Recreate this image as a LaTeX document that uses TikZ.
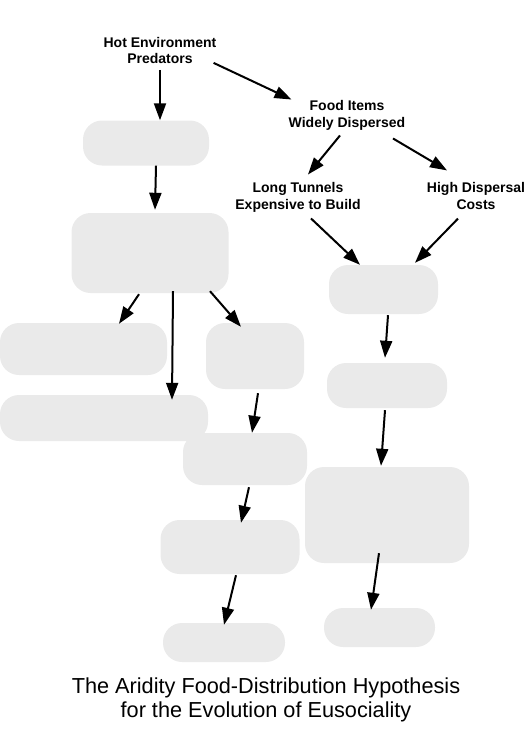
\documentclass[tikz,border=0pt]{standalone}
\usepackage{fontspec}
\setmainfont{Liberation Sans}
\usepackage{tikz}
\usetikzlibrary{arrows.meta}

\definecolor{blobgray}{RGB}{234,234,234}

\begin{document}
\begin{tikzpicture}[
  x=1pt, y=-1pt,
  lbl/.style={font=\bfseries\fontsize{14}{16.5}\selectfont, align=center, inner sep=0pt},
  blob/.style={fill=blobgray, draw=none, rounded corners=19pt, inner sep=0pt},
  arr/.style={draw, line width=2pt, -{Triangle[length=17pt,width=12pt]}}
]
\useasboundingbox (0,0) rectangle (531,734);

% Labels
\node[lbl] (hot) at (160,50.3) {Hot Environment\\Predators};
\node[lbl] (food) at (347,115.5) {Food Items\\Widely Dispersed};
\node[lbl] (tunnels) at (298,197.5) {Long Tunnels\\Expensive to Build};
\node[lbl] (costs) at (476,196) {High Dispersal\\Costs};

% Left column
\node[blob, minimum width=126pt, minimum height=45pt] (b1) at (146,143) {};
\node[blob, minimum width=157pt, minimum height=80pt] (b2) at (150,253) {};
\node[blob, minimum width=167pt, minimum height=52pt] (b3) at (83.5,349) {};
\node[blob, minimum width=98pt, minimum height=66pt] (b4) at (255,356) {};
\node[blob, minimum width=208pt, minimum height=46pt] (b5) at (104,418) {};
\node[blob, minimum width=124pt, minimum height=52pt] (b6) at (245,459) {};
\node[blob, minimum width=139pt, minimum height=54pt] (b7) at (230,547) {};
\node[blob, minimum width=122pt, minimum height=39pt] (b8) at (224,642.5) {};

% Right column
\node[blob, minimum width=109pt, minimum height=49pt] (r1) at (383.5,289.5) {};
\node[blob, minimum width=120pt, minimum height=45pt] (r2) at (387,385.5) {};
\node[blob, minimum width=164pt, minimum height=96pt] (r3) at (387,515) {};
\node[blob, minimum width=111pt, minimum height=39pt] (r4) at (379.5,627.5) {};

% Arrows
\draw[arr] ([shift={(0,6)}]hot.south) -- ([shift={(14,0)}]b1.north);
\draw[arr] ([shift={(-3,-1)}]hot.south east) -- ([shift={(3,-1)}]food.north west);
\draw[arr] ([shift={(10,0)}]b1.south) -- ([shift={(5,-3)}]b2.north);
\draw[arr] ([shift={(-11,1)}]b2.south) -- ([shift={(35.5,1)}]b3.north);
\draw[arr] ([shift={(23,-2)}]b2.south) -- ([shift={(68,5)}]b5.north);
\draw[arr] ([shift={(60,-2)}]b2.south) -- ([shift={(-14,4)}]b4.north);
\draw[arr] ([shift={(3,4)}]b4.south) -- ([shift={(7,0)}]b6.north);
\draw[arr] ([shift={(4,2)}]b6.south) -- ([shift={(11,3)}]b7.north);
\draw[arr] ([shift={(6,1)}]b7.south) -- ([shift={(0,2)}]b8.north);

\draw[arr] ([shift={(-7,5)}]food.south) -- ([shift={(10,-8)}]tunnels.north);
\draw[arr] ([shift={(46,8)}]food.south) -- ([shift={(-29,-12)}]costs.north);
\draw[arr] ([shift={(13,6)}]tunnels.south) -- ([shift={(-23.5,0)}]r1.north);
\draw[arr] ([shift={(-18,9)}]costs.south) -- ([shift={(31.5,-2)}]r1.north);
\draw[arr] ([shift={(4.5,1)}]r1.south) -- ([shift={(-2,-5)}]r2.north);
\draw[arr] ([shift={(-2,2)}]r2.south) -- ([shift={(-6,-1)}]r3.north);
\draw[arr] ([shift={(-8,-10)}]r3.south) -- ([shift={(-8.5,2)}]r4.north);

% Title
\node[align=center, inner sep=0pt, font=\fontsize{21.7}{24}\selectfont] (title) at (266,700)
  {The Aridity Food-Distribution Hypothesis\\for the Evolution of Eusociality};
\end{tikzpicture}
\end{document}
